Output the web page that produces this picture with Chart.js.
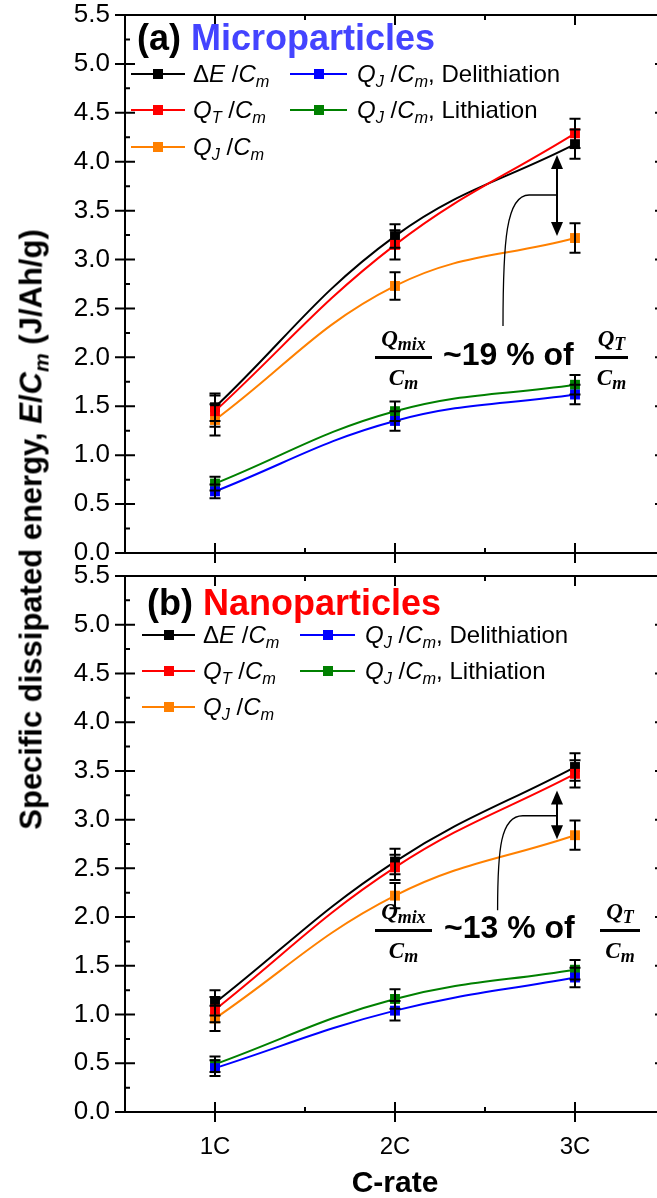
<!DOCTYPE html>
<html><head><meta charset="utf-8">
<script src="https://cdn.jsdelivr.net/npm/chart.js@4.4.1/dist/chart.umd.min.js"></script>
<style>
html,body{margin:0;padding:0;background:#fff;}
body{width:657px;height:1198px;overflow:hidden;position:relative;font-family:"Liberation Sans",Arial,sans-serif;color:#000;}
canvas{position:absolute;left:0;}
.t{position:absolute;white-space:nowrap;line-height:1;}
.t i{font-style:italic;}
.t sub{font-size:0.68em;vertical-align:-0.32em;line-height:0;}
.legl{position:absolute;height:2px;}
.legm{position:absolute;width:10px;height:10px;}
.frac{position:absolute;height:3px;background:#000;}
.frac div{position:absolute;left:-12px;right:-12px;text-align:center;white-space:nowrap;font-family:"Liberation Serif","DejaVu Serif",serif;font-weight:bold;font-style:italic;font-size:23px;line-height:23px;}
.frac sub{font-size:0.78em;vertical-align:-0.25em;line-height:0;}
</style></head><body>
<canvas id="c1" width="680" height="580" style="top:0px"></canvas>
<canvas id="c2" width="680" height="653" style="top:545px"></canvas>
<div id="ov"></div>
<script>
// ---------- DATA ----------
const cRates = [1, 2, 3];
const cRateLabels = ['1C', '2C', '3C'];
const seriesColors = ['#000000', '#ff0000', '#ff8000', '#0000ff', '#008000'];
const legendLabels = [
  'Δ<i>E</i> /<i>C<sub>m</sub></i>',
  '<i>Q<sub>T</sub></i> /<i>C<sub>m</sub></i>',
  '<i>Q<sub>J</sub></i> /<i>C<sub>m</sub></i>',
  '<i>Q<sub>J</sub></i> /<i>C<sub>m</sub></i>, Delithiation',
  '<i>Q<sub>J</sub></i> /<i>C<sub>m</sub></i>, Lithiation'
];

// (a) Microparticles
const microDeltaE    = [1.49, 3.24, 4.18];
const microQT        = [1.45, 3.15, 4.29];
const microQJ        = [1.36, 2.73, 3.22];
const microQJDelith  = [0.63, 1.35, 1.62];
const microQJLith    = [0.71, 1.45, 1.72];
const microDeltaEErr   = [0.14, 0.12, 0.15];
const microQTErr       = [0.16, 0.15, 0.15];
const microQJErr       = [0.16, 0.14, 0.15];
const microQJDelithErr = [0.07, 0.10, 0.10];
const microQJLithErr   = [0.07, 0.10, 0.10];

// (b) Nanoparticles
const nanoDeltaE    = [1.12, 2.57, 3.54];
const nanoQT        = [1.05, 2.51, 3.47];
const nanoQJ        = [0.96, 2.22, 2.84];
const nanoQJDelith  = [0.45, 1.04, 1.38];
const nanoQJLith    = [0.49, 1.16, 1.46];
const nanoDeltaEErr   = [0.13, 0.13, 0.14];
const nanoQTErr       = [0.13, 0.13, 0.14];
const nanoQJErr       = [0.13, 0.13, 0.15];
const nanoQJDelithErr = [0.08, 0.10, 0.10];
const nanoQJLithErr   = [0.08, 0.10, 0.10];

// ---------- PLUGINS ----------
const errorBars = {
  id: 'errorBars',
  afterDatasetsDraw(chart) {
    const ctx = chart.ctx, ys = chart.scales.y;
    ctx.save();
    ctx.strokeStyle = '#000'; ctx.lineWidth = 2;
    chart.data.datasets.forEach((ds, i) => {
      const meta = chart.getDatasetMeta(i);
      meta.data.forEach((pt, j) => {
        const v = ds.data[j].y, e = ds.errors[j];
        const y1 = ys.getPixelForValue(v + e), y2 = ys.getPixelForValue(v - e);
        ctx.beginPath();
        ctx.moveTo(pt.x, y1); ctx.lineTo(pt.x, y2);
        ctx.moveTo(pt.x - 5.5, y1); ctx.lineTo(pt.x + 5.5, y1);
        ctx.moveTo(pt.x - 5.5, y2); ctx.lineTo(pt.x + 5.5, y2);
        ctx.stroke();
      });
    });
    ctx.restore();
  }
};

const frame = {
  id: 'frame',
  afterDraw(chart) {
    const ctx = chart.ctx, a = chart.chartArea, xs = chart.scales.x, ys = chart.scales.y;
    ctx.save();
    ctx.strokeStyle = '#000'; ctx.lineWidth = 2;
    ctx.strokeRect(a.left, a.top, a.right - a.left, a.bottom - a.top);
    ctx.beginPath();
    for (let v = 0.5; v <= 3.5001; v += 0.5) {
      const x = xs.getPixelForValue(v);
      const major = Math.abs(v - Math.round(v)) < 1e-6;
      if (x <= a.left + 1 || x >= a.right - 1) continue;
      if (major) {
        ctx.moveTo(x, a.bottom - 10); ctx.lineTo(x, a.bottom + 10);
        ctx.moveTo(x, a.top); ctx.lineTo(x, a.top + 10);
      } else {
        ctx.moveTo(x, a.bottom - 5); ctx.lineTo(x, a.bottom);
        ctx.moveTo(x, a.top); ctx.lineTo(x, a.top + 5);
      }
    }
    for (let k = 0; k <= 22; k++) {
      const v = k * 0.25, y = ys.getPixelForValue(v);
      if (k % 2 === 0) {
        ctx.moveTo(a.left - 10, y); ctx.lineTo(a.left + 10, y);
        ctx.moveTo(a.right - 10, y); ctx.lineTo(a.right, y);
      } else {
        ctx.moveTo(a.left, y); ctx.lineTo(a.left + 5, y);
        ctx.moveTo(a.right - 5, y); ctx.lineTo(a.right, y);
      }
    }
    ctx.stroke();
    ctx.restore();
  }
};

const annot = {
  id: 'annot',
  afterDraw(chart, args, o) {
    const ctx = chart.ctx, xs = chart.scales.x, ys = chart.scales.y;
    const x = xs.getPixelForValue(o.x);
    const yT = ys.getPixelForValue(o.yTop), yB = ys.getPixelForValue(o.yBot);
    const yM = ys.getPixelForValue(o.yMid);
    const xE = xs.getPixelForValue(o.xElbow);
    const xN = xs.getPixelForValue(o.xEnd), yN = ys.getPixelForValue(o.yEnd);
    const hl = 14, hw = 6;
    ctx.save();
    ctx.strokeStyle = '#000'; ctx.fillStyle = '#000';
    ctx.lineWidth = 2;
    ctx.beginPath(); ctx.moveTo(x, yT + hl - 2); ctx.lineTo(x, yB - hl + 2); ctx.stroke();
    ctx.beginPath(); ctx.moveTo(x, yT); ctx.lineTo(x - hw, yT + hl); ctx.lineTo(x + hw, yT + hl); ctx.closePath(); ctx.fill();
    ctx.beginPath(); ctx.moveTo(x, yB); ctx.lineTo(x - hw, yB - hl); ctx.lineTo(x + hw, yB - hl); ctx.closePath(); ctx.fill();
    ctx.lineWidth = 1.3;
    const dx = xE - xN, dy = yN - yM;
    ctx.beginPath();
    ctx.moveTo(x, yM); ctx.lineTo(xE, yM);
    ctx.bezierCurveTo(xE - 0.88 * dx, yM, xN, yM + 0.35 * dy, xN, yN);
    ctx.stroke();
    ctx.restore();
  }
};

// ---------- CHARTS ----------
function makeDatasets(vals, errs) {
  // drawing order: first dataset ends up on top
  const order = [1, 0, 2, 3, 4];
  return order.map(k => ({
    data: cRates.map((c, i) => ({ x: c, y: vals[k][i] })),
    errors: errs[k],
    borderColor: seriesColors[k],
    backgroundColor: seriesColors[k],
    pointBackgroundColor: seriesColors[k],
    pointBorderColor: seriesColors[k],
    borderWidth: 2,
    pointStyle: 'rect',
    pointRadius: 7,
    pointBorderWidth: 0,
    tension: 0.4,
    fill: false
  }));
}

function makeChart(id, vals, errs, showX, padTop, xHeight, annotOpts) {
  return new Chart(document.getElementById(id), {
    type: 'line',
    data: { datasets: makeDatasets(vals, errs) },
    options: {
      responsive: false, animation: false, devicePixelRatio: 1,
      layout: { padding: { top: padTop, right: 15, left: 0, bottom: 0 } },
      plugins: { legend: { display: false }, tooltip: { enabled: false }, annot: annotOpts },
      scales: {
        x: {
          type: 'linear', min: 0.5, max: 3.5,
          afterBuildTicks: s => { s.ticks = cRates.map(v => ({ value: v })); },
          grid: { display: false, drawTicks: false }, border: { display: false },
          ticks: { display: showX, color: '#000', padding: 21, maxRotation: 0,
                   font: { family: 'Liberation Sans', size: 24 },
                   callback: v => cRateLabels[cRates.indexOf(v)] },
          afterFit: s => { s.height = xHeight; s.paddingLeft = 0; s.paddingRight = 0; }
        },
        y: {
          min: 0, max: 5.5,
          grid: { display: false, drawTicks: false }, border: { display: false },
          ticks: { stepSize: 0.5, color: '#000', padding: 15,
                   font: { family: 'Liberation Sans', size: 26 },
                   callback: v => Number(v).toFixed(1) },
          afterFit: s => { s.width = 125; s.paddingTop = 0; s.paddingBottom = 0; }
        }
      }
    },
    plugins: [errorBars, frame, annot]
  });
}

makeChart('c1',
  [microDeltaE, microQT, microQJ, microQJDelith, microQJLith],
  [microDeltaEErr, microQTErr, microQJErr, microQJDelithErr, microQJLithErr],
  false, 15, 27,
  { x: 2.9, yTop: 4.07, yBot: 3.24, yMid: 3.66, xElbow: 2.745, xEnd: 2.60, yEnd: 2.32 });

makeChart('c2',
  [nanoDeltaE, nanoQT, nanoQJ, nanoQJDelith, nanoQJLith],
  [nanoDeltaEErr, nanoQTErr, nanoQJErr, nanoQJDelithErr, nanoQJLithErr],
  true, 31, 86,
  { x: 2.9, yTop: 3.30, yBot: 2.80, yMid: 3.04, xElbow: 2.71, xEnd: 2.57, yEnd: 2.07 });

// ---------- TEXT OVERLAYS ----------
const ov = document.getElementById('ov');
const LEG_FS = 24;
function txt(html, x, baseline, fs, style) {
  const d = document.createElement('div');
  d.className = 't';
  d.innerHTML = html;
  d.style.left = x + 'px';
  d.style.top = (baseline - 0.8465 * fs) + 'px';
  d.style.fontSize = fs + 'px';
  if (style) d.style.cssText += style;
  ov.appendChild(d);
  return d;
}
function legend(col1, col2, rows) {
  const place = (k, col, rowY) => {
    const l = document.createElement('div');
    l.className = 'legl';
    l.style.cssText = `left:${col.x0}px;width:${col.x1 - col.x0}px;top:${rowY - 1}px;background:${seriesColors[k]}`;
    ov.appendChild(l);
    const m = document.createElement('div');
    m.className = 'legm';
    const cx = (col.x0 + col.x1) / 2;
    m.style.cssText = `left:${cx - 5}px;top:${rowY - 5}px;background:${seriesColors[k]}`;
    ov.appendChild(m);
    txt(legendLabels[k], col.tx, rowY + 0.358 * LEG_FS, LEG_FS);
  };
  [0, 1, 2].forEach(k => place(k, col1, rows[k]));
  [3, 4].forEach((k, r) => place(k, col2, rows[r]));
}
function frac(num, den, x, w, barY) {
  const f = document.createElement('div');
  f.className = 'frac';
  f.style.cssText = `left:${x}px;width:${w}px;top:${barY - 1.5}px`;
  f.innerHTML = `<div style="top:${-28.8}px">${num}</div><div style="top:${10}px">${den}</div>`;
  ov.appendChild(f);
}

// panel titles
txt('(a) <span style="color:#4444ff">Microparticles</span>', 137, 50, 36, 'font-weight:bold;');
txt('(b) <span style="color:#ff0000">Nanoparticles</span>', 147, 615, 36, 'font-weight:bold;');

// legends
legend({ x0: 131, x1: 185, tx: 193 }, { x0: 290, x1: 347, tx: 357 }, [74, 110, 147]);
legend({ x0: 142, x1: 195, tx: 203 }, { x0: 300, x1: 355, tx: 365 }, [635, 671, 707]);

// annotations
frac('Q<sub>mix</sub>', 'C<sub>m</sub>', 375, 57, 357);
txt('~19 % of', 443, 365, 32, 'font-weight:bold;');
frac('Q<sub>T</sub>', 'C<sub>m</sub>', 595, 33, 357);

frac('Q<sub>mix</sub>', 'C<sub>m</sub>', 375, 57, 930);
txt('~13 % of', 444, 938, 32, 'font-weight:bold;');
frac('Q<sub>T</sub>', 'C<sub>m</sub>', 600, 40, 930);

// axis titles
const yt = document.createElement('div');
yt.className = 't';
yt.style.cssText = 'left:-369px;top:513.5px;width:800px;text-align:center;font-size:31px;line-height:31px;font-weight:bold;transform:rotate(-90deg);transform-origin:50% 50%;';
yt.innerHTML = 'Specific dissipated energy, <i>E</i>/<i>C<sub>m</sub></i> (J/Ah/g)';
ov.appendChild(yt);

const xt = document.createElement('div');
xt.className = 't';
xt.style.cssText = 'left:295px;width:200px;text-align:center;font-size:30px;line-height:30px;font-weight:bold;top:' + (1192 - 0.8465 * 30) + 'px;';
xt.innerHTML = 'C-rate';
ov.appendChild(xt);
</script>
</body></html>
